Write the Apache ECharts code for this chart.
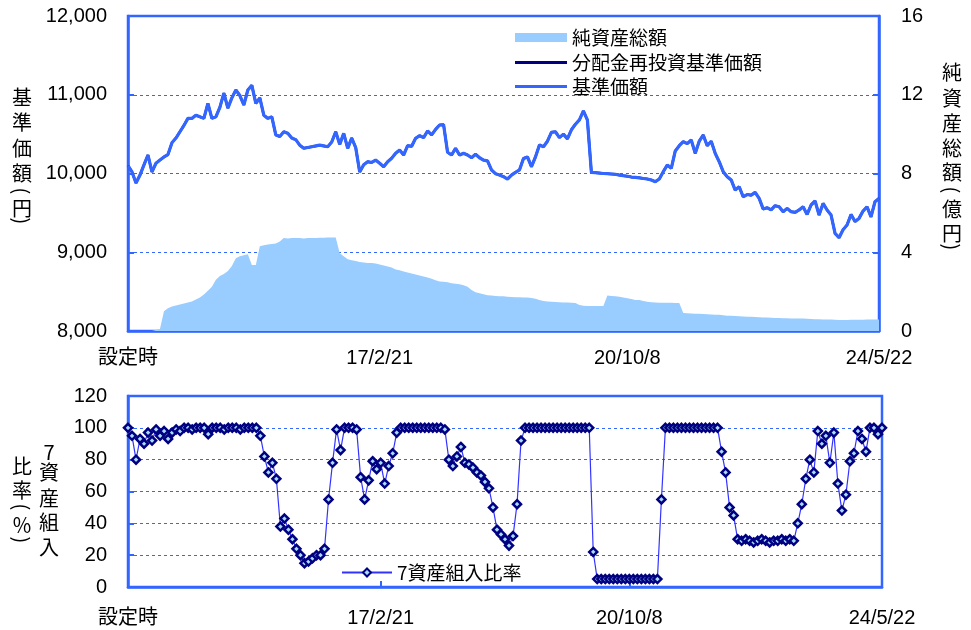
<!DOCTYPE html>
<html><head><meta charset="utf-8">
<script src="https://cdn.jsdelivr.net/npm/echarts@6/dist/echarts.min.js"></script>
<style>html,body{margin:0;padding:0;background:#fff}#c{width:971px;height:630px}</style>
</head><body><div id="c"></div>
<script>
// x-axis tick labels and the category index at which each appears
const tickLabels = ['設定時', '17/2/21', '20/10/8', '24/5/22'];
const tickIndex = [0, 63, 125, 188];

// 純資産総額 (億円)
const netAssets = [
  0,0,0,0,0,0,0,0.05,0.1,1.0,
  1.15,1.25,1.3,1.35,1.4,1.45,1.5,1.6,1.7,1.85,
  2.05,2.25,2.6,2.8,2.9,3.05,3.3,3.7,3.8,3.85,
  3.9,3.35,3.35,4.3,4.35,4.4,4.42,4.45,4.55,4.72,
  4.7,4.72,4.72,4.72,4.7,4.72,4.72,4.73,4.74,4.74,
  4.75,4.75,4.75,3.95,3.8,3.65,3.6,3.55,3.5,3.48,
  3.46,3.45,3.43,3.38,3.33,3.28,3.22,3.12,3.08,3.02,
  2.97,2.92,2.87,2.82,2.77,2.72,2.66,2.58,2.52,2.5,
  2.47,2.43,2.4,2.37,2.33,2.25,2.08,1.97,1.92,1.87,
  1.82,1.8,1.78,1.77,1.76,1.74,1.73,1.72,1.71,1.7,
  1.7,1.68,1.64,1.58,1.53,1.5,1.48,1.47,1.46,1.45,
  1.45,1.44,1.42,1.32,1.28,1.27,1.27,1.27,1.27,1.27,
  1.8,1.78,1.76,1.74,1.7,1.66,1.62,1.58,1.57,1.53,
  1.49,1.46,1.45,1.44,1.44,1.43,1.43,1.42,1.42,0.92,
  0.9,0.89,0.88,0.87,0.86,0.85,0.84,0.83,0.82,0.8,
  0.78,0.77,0.76,0.75,0.74,0.73,0.72,0.71,0.7,0.69,
  0.68,0.67,0.66,0.66,0.65,0.65,0.64,0.64,0.63,0.63,
  0.62,0.61,0.6,0.6,0.59,0.59,0.58,0.57,0.56,0.56,
  0.56,0.57,0.57,0.57,0.57,0.58,0.58,0.58,0.58
];

// 基準価額 (円)
const navPrice = [
  10100,10020,9880,9980,10110,10235,10020,10130,10170,10210,
  10240,10390,10450,10530,10610,10700,10700,10740,10720,10700,
  10890,10700,10720,10840,11020,10830,10960,11060,10990,10870,
  11060,11120,10890,10960,10740,10700,10720,10490,10470,10530,
  10510,10450,10430,10360,10320,10330,10340,10350,10360,10350,
  10340,10400,10530,10370,10510,10320,10450,10330,10020,10110,
  10150,10140,10170,10130,10086,10150,10193,10256,10298,10235,
  10353,10345,10447,10480,10455,10540,10490,10560,10616,10620,
  10270,10235,10320,10235,10256,10235,10200,10245,10200,10170,
  10160,10045,9998,9980,9960,9930,9980,10015,10045,10190,
  10210,10086,10210,10362,10340,10410,10523,10530,10455,10500,
  10440,10555,10625,10680,10794,10680,10015,10010,10005,10000,
  9998,9994,9990,9980,9972,9965,9955,9950,9945,9937,
  9930,9918,9896,9930,10023,10108,10066,10286,10353,10404,
  10380,10425,10256,10410,10489,10353,10410,10256,10150,10023,
  9960,9918,9790,9832,9705,9733,9725,9760,9684,9550,
  9565,9537,9591,9578,9515,9557,9515,9507,9537,9578,
  9480,9600,9651,9473,9620,9537,9473,9240,9185,9285,
  9346,9480,9390,9430,9523,9578,9450,9642,9684
];

// 分配金再投資基準価額 (円) — no distributions paid, identical to 基準価額
const navReinvested = navPrice.slice();

// 7資産組入比率 (%)
const ratio7 = [
  100,95,80,93,90,97,92,99,95,98,
  93,97,99,98,100,100,99,100,100,100,
  96,100,100,100,99,100,100,100,99,100,
  100,100,100,95,82,72,78,68,38,43,
  36,30,24,20,15,16,18,20,20,24,
  55,78,99,86,100,100,100,99,69,55,
  67,79,74,78,65,76,84,97,100,100,
  100,100,100,100,100,100,100,100,100,99,
  80,76,82,88,78,77,75,72,70,66,
  62,50,36,33,30,26,32,52,92,100,
  100,100,100,100,100,100,100,100,100,100,
  100,100,100,100,100,100,22,5,5,5,
  5,5,5,5,5,5,5,5,5,5,
  5,5,5,55,100,100,100,100,100,100,
  100,100,100,100,100,100,100,100,85,72,
  50,45,30,29,30,29,28,29,30,29,
  28,29,29,30,29,30,29,40,52,68,
  80,72,98,90,95,78,97,65,48,58,
  79,84,98,93,85,100,100,96,100
];

const categories = navPrice.map((_, i) => String(i));

const BLUE = '#3366FF';
const NUMFONT = '"Liberation Sans", "Noto Sans CJK JP", sans-serif';
const CJK = '"Noto Sans CJK JP", sans-serif';

function isTick(i) { return tickIndex.indexOf(i) >= 0; }
function tickText(v, i) { const k = tickIndex.indexOf(Number(v)); return k >= 0 ? tickLabels[k] : ''; }

// vertical axis titles: one text element per character; '(' and ')' are rotated
function vtext(chars, ys, x) {
  return chars.map((c, k) => {
    const paren = (c === '(' || c === ')');
    return {
      type: 'text', x: x, y: ys[k], rotation: paren ? -Math.PI / 2 : 0, silent: true,
      style: { text: c, fontSize: 20, fontFamily: CJK, fill: '#000', align: 'center', verticalAlign: 'middle' }
    };
  });
}

function xAxisCfg(gi, margin) {
  return {
    type: 'category', gridIndex: gi, data: categories, boundaryGap: false,
    axisLine: { lineStyle: { color: BLUE, width: 2.5 } },
    axisTick: { show: true, inside: true, length: 6, interval: (i) => i === 63 || i === 125, lineStyle: { color: BLUE, width: 2 } },
    axisLabel: { interval: (i) => isTick(i), formatter: tickText, margin: margin, fontSize: 20, fontFamily: NUMFONT, color: '#000', showMaxLabel: true, showMinLabel: true, hideOverlap: false },
    splitLine: { show: false }
  };
}

const splitDash = { show: true, lineStyle: { color: BLUE, type: [3, 3], width: 1 } };

const option = {
  animation: false,
  backgroundColor: '#fff',
  grid: [
    { left: 128, right: 92, top: 16, height: 315, show: true, borderColor: BLUE, borderWidth: 2.5, backgroundColor: 'transparent' },
    { left: 128, right: 89, top: 396, height: 191, show: true, borderColor: BLUE, borderWidth: 2.5, backgroundColor: 'transparent' }
  ],
  xAxis: [xAxisCfg(0, 17), xAxisCfg(1, 21)],
  yAxis: [
    { type: 'value', gridIndex: 0, min: 8000, max: 12000, interval: 1000, position: 'left',
      axisLine: { show: true, lineStyle: { color: BLUE, width: 2.5 } },
      axisTick: { show: true, inside: true, length: 6, lineStyle: { color: BLUE, width: 2 } },
      axisLabel: { margin: 21, fontSize: 20, fontFamily: NUMFONT, color: '#000', formatter: (v) => v.toLocaleString('en-US') },
      splitLine: splitDash },
    { type: 'value', gridIndex: 0, min: 0, max: 16, interval: 4, position: 'right',
      axisLine: { show: true, lineStyle: { color: BLUE, width: 2.5 } },
      axisTick: { show: true, inside: true, length: 6, lineStyle: { color: BLUE, width: 2 } },
      axisLabel: { margin: 22, fontSize: 20, fontFamily: NUMFONT, color: '#000' },
      splitLine: { show: false } },
    { type: 'value', gridIndex: 1, min: 0, max: 120, interval: 20, position: 'left',
      axisLine: { show: true, lineStyle: { color: BLUE, width: 2.5 } },
      axisTick: { show: true, inside: true, length: 6, lineStyle: { color: BLUE, width: 2 } },
      axisLabel: { margin: 21, fontSize: 20, fontFamily: NUMFONT, color: '#000' },
      splitLine: splitDash }
  ],
  legend: [
    { data: [{ name: '純資産総額', icon: 'rect' }], left: 510, top: 23, itemWidth: 52, itemHeight: 9,
      textStyle: { fontSize: 19, fontFamily: CJK, color: '#000' }, selectedMode: false },
    { data: [{ name: '分配金再投資基準価額', icon: 'rect' }, { name: '基準価額', icon: 'rect' }], orient: 'vertical', left: 510, top: 48, itemGap: 5,
      itemWidth: 52, itemHeight: 3, textStyle: { fontSize: 19, fontFamily: CJK, color: '#000' }, selectedMode: false },
    { data: ['7資産組入比率'], left: 336, top: 558, itemWidth: 50, itemHeight: 10,
      textStyle: { fontSize: 19, fontFamily: CJK, color: '#000' }, selectedMode: false }
  ],
  series: [
    { name: '純資産総額', type: 'line', xAxisIndex: 0, yAxisIndex: 1, data: netAssets, symbol: 'none', z: 1,
      lineStyle: { width: 0, color: '#99CCFF' }, itemStyle: { color: '#99CCFF' }, areaStyle: { color: '#99CCFF', opacity: 1 } },
    { name: '分配金再投資基準価額', type: 'line', xAxisIndex: 0, yAxisIndex: 0, data: navReinvested, symbol: 'none', z: 2,
      lineStyle: { width: 2.5, color: '#000080' }, itemStyle: { color: '#000080' } },
    { name: '基準価額', type: 'line', xAxisIndex: 0, yAxisIndex: 0, data: navPrice, symbol: 'none', z: 3,
      lineStyle: { width: 3.2, color: BLUE }, itemStyle: { color: BLUE } },
    { name: '7資産組入比率', type: 'line', xAxisIndex: 1, yAxisIndex: 2, data: ratio7, symbol: 'diamond', symbolSize: 8,
      showSymbol: true, showAllSymbol: true, z: 3,
      lineStyle: { width: 1.2, color: '#3333FF' }, itemStyle: { color: '#A8DCFF', borderColor: '#000080', borderWidth: 2.5 } }
  ],
  graphic: [].concat(
    vtext(['基','準','価','額','(','円',')'], [97,122,148,173,191,208,221], 22),
    vtext(['純','資','産','総','額','(','億','円',')'], [72,98,123,148,172,190,209,233,247], 952),
    vtext(['比','率','(','％',')'], [466,490,507,525,540], 22),
    vtext(['7','資','産','組','入'], [452,472,498,522,547], 49)
  )
};

const chart = echarts.init(document.getElementById('c'), null, { renderer: 'canvas' });
chart.setOption(option);
</script>
</body></html>
